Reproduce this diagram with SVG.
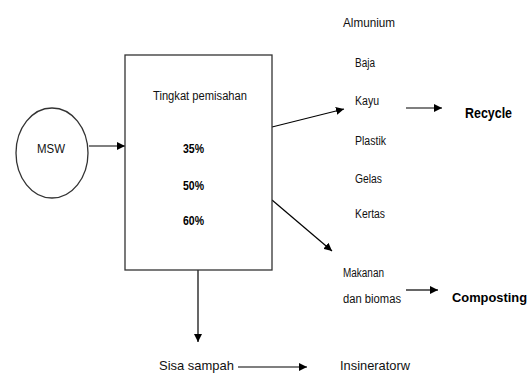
<svg xmlns="http://www.w3.org/2000/svg" width="532" height="373" viewBox="0 0 532 373">
<defs>
<marker id="ah" viewBox="0 0 10 10" refX="10" refY="5" markerWidth="8" markerHeight="8" markerUnits="userSpaceOnUse" orient="auto">
<path d="M0,0 L10,5 L0,10 z" fill="#000"/>
</marker>
</defs>
<style>
.t{font-family:"Liberation Sans",Arial,sans-serif;font-size:12px;fill:#111}
.t13{font-size:13px}
.b{font-family:"Liberation Sans",Arial,sans-serif;font-size:15px;font-weight:bold;fill:#000}
.b13{font-size:13px}
.c{stroke:#000;stroke-width:1.2;fill:none;marker-end:url(#ah)}
.s{stroke:#333;stroke-width:1.3;fill:#fff}
</style>
<rect width="532" height="373" fill="#fff"/>
<g id="connectors">
<line class="c" x1="89" y1="146" x2="125" y2="146"/>
<line class="c" x1="272" y1="127" x2="344" y2="109"/>
<line class="c" x1="272" y1="200" x2="332" y2="251"/>
<line class="c" x1="198" y1="270" x2="198" y2="342"/>
<line class="c" x1="406" y1="108" x2="442" y2="108"/>
<line class="c" x1="406" y1="290" x2="438" y2="290"/>
<line class="c" x1="238" y1="367" x2="307" y2="367"/>
</g>
<g id="msw">
<ellipse class="s" cx="52" cy="153" rx="36" ry="45"/>
<text class="t" x="37" y="153" textLength="28" lengthAdjust="spacingAndGlyphs">MSW</text>
</g>
<g id="separator">
<rect class="s" x="125" y="55" width="147" height="215"/>
<text class="t" x="153" y="100" textLength="94" lengthAdjust="spacingAndGlyphs">Tingkat pemisahan</text>
<text class="b b13" x="183" y="153" textLength="21" lengthAdjust="spacingAndGlyphs">35%</text>
<text class="b b13" x="183" y="190" textLength="21" lengthAdjust="spacingAndGlyphs">50%</text>
<text class="b b13" x="183" y="225" textLength="21" lengthAdjust="spacingAndGlyphs">60%</text>
</g>
<g id="materials">
<text class="t" x="343" y="27" textLength="52" lengthAdjust="spacingAndGlyphs">Almunium</text>
<text class="t" x="355" y="67" textLength="20" lengthAdjust="spacingAndGlyphs">Baja</text>
<text class="t" x="355" y="105" textLength="24" lengthAdjust="spacingAndGlyphs">Kayu</text>
<text class="t" x="355" y="145" textLength="31" lengthAdjust="spacingAndGlyphs">Plastik</text>
<text class="t" x="355" y="183" textLength="27" lengthAdjust="spacingAndGlyphs">Gelas</text>
<text class="t" x="355" y="218" textLength="30" lengthAdjust="spacingAndGlyphs">Kertas</text>
</g>
<g id="organic">
<text class="t" x="343" y="277" textLength="41" lengthAdjust="spacingAndGlyphs">Makanan</text>
<text class="t" x="343" y="303" textLength="58" lengthAdjust="spacingAndGlyphs">dan biomas</text>
</g>
<g id="recycle">
<text class="b" x="465" y="118" textLength="47" lengthAdjust="spacingAndGlyphs">Recycle</text>
</g>
<g id="composting">
<text class="b b13" x="452" y="302" textLength="75" lengthAdjust="spacingAndGlyphs">Composting</text>
</g>
<g id="sisa">
<text class="t t13" x="159" y="370" textLength="75" lengthAdjust="spacingAndGlyphs">Sisa sampah</text>
</g>
<g id="insinerator">
<text class="t t13" x="340" y="370" textLength="70" lengthAdjust="spacingAndGlyphs">Insineratorw</text>
</g>
</svg>
